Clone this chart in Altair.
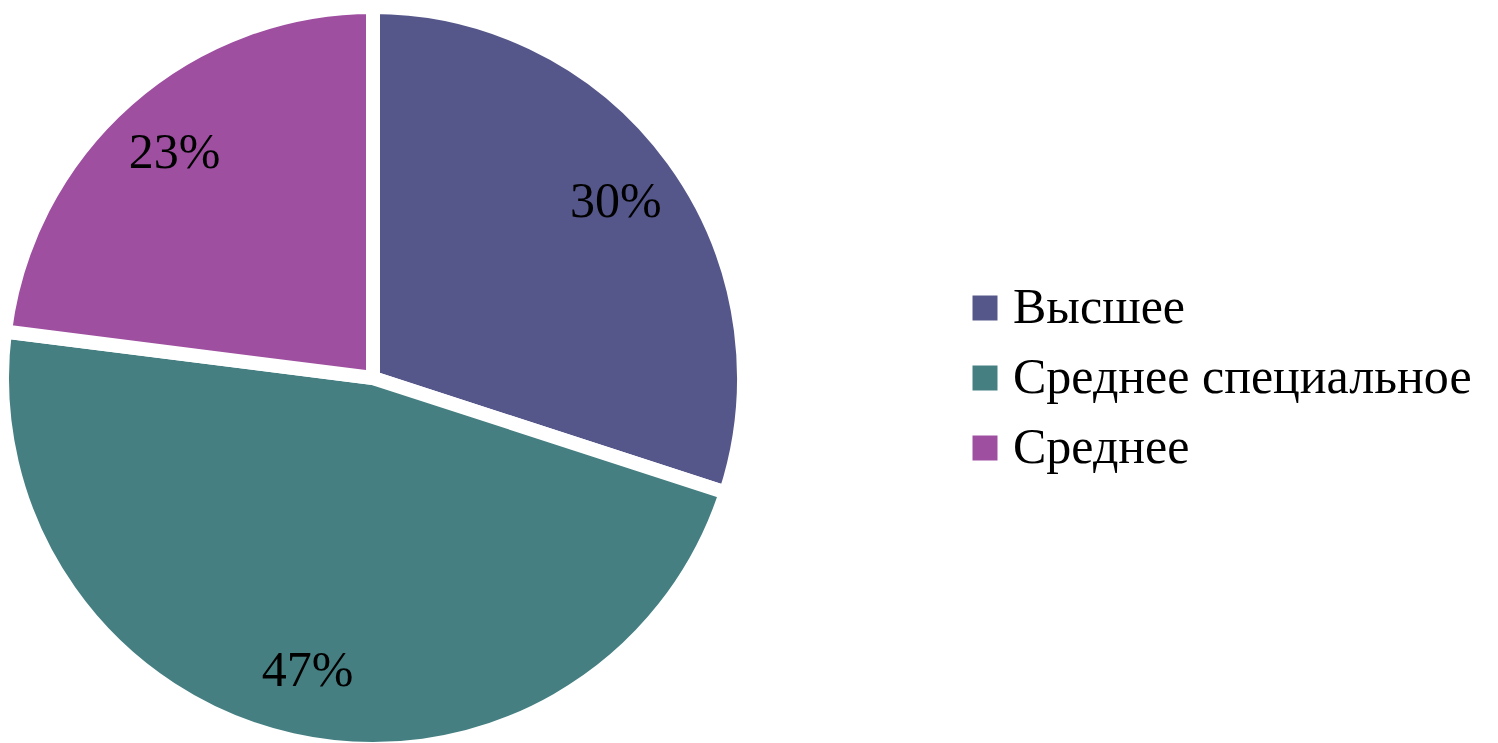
import altair as alt
import pandas as pd

categories = ["Высшее", "Среднее специальное", "Среднее"]
values = [30, 47, 23]
labels = ["30%", "47%", "23%"]
colors = ["#55578A", "#457F82", "#9E4FA0"]

df = pd.DataFrame({"cat": categories, "val": values, "lab": labels, "idx": [0, 1, 2]})

base = alt.Chart(df).encode(
    theta=alt.Theta("val:Q", stack=True),
    order=alt.Order("idx:Q"),
    x=alt.value(365),
    y=alt.value(370),
)

color = alt.Color(
    "cat:N",
    scale=alt.Scale(domain=categories, range=colors),
    sort=categories,
    legend=alt.Legend(
        title=None,
        orient="none",
        legendX=952,
        legendY=275,
        symbolType="square",
        symbolSize=625,
        symbolStrokeWidth=0,
        labelFont="Liberation Serif",
        labelFontSize=50,
        labelColor="#000000",
        labelLimit=1000,
        rowPadding=20,
        labelOffset=3,
        padding=0,
    ),
)

arcs = base.mark_arc(outerRadius=371, stroke="white", strokeWidth=14).encode(color=color)

text = base.mark_text(
    radius=300, font="Liberation Serif", fontSize=50, color="#000000"
).encode(text="lab:N")

chart = (
    (arcs + text)
    .properties(width=1482, height=740, autosize=alt.AutoSizeParams(type="none"), padding=0)
    .configure_view(stroke=None)
)

chart.save("out.html", embed_options={"renderer": "svg", "actions": False})
